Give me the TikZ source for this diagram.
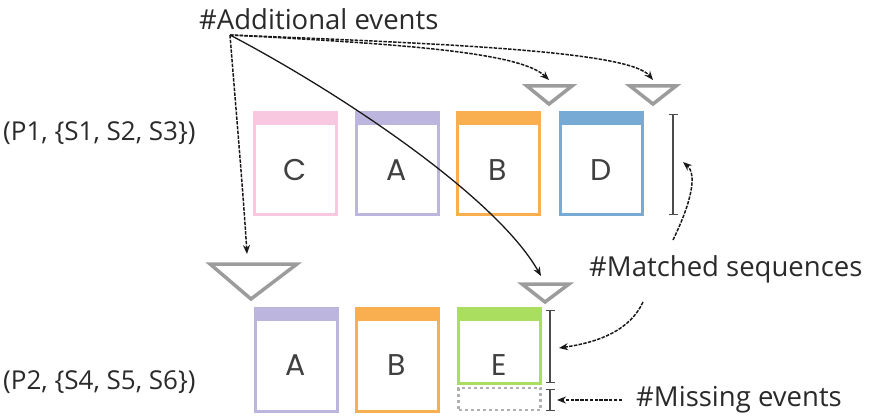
\documentclass[tikz,border=0pt]{standalone}
\usepackage{fontspec}
\setmainfont{Open Sans}
\newfontfamily\boxfont{Poppins}
\usetikzlibrary{arrows.meta}

\definecolor{evpink}{HTML}{F8C8E0}
\definecolor{evlilac}{HTML}{BCB6DE}
\definecolor{evorange}{HTML}{F9AF50}
\definecolor{evblue}{HTML}{78AAD6}
\definecolor{evgreen}{HTML}{A9DE5F}
\definecolor{markgray}{HTML}{9C9C9C}
\definecolor{inkgray}{HTML}{2A2A2A}

\tikzset{
  evbox/.style={draw=#1, line width=3pt, minimum width=82pt, minimum height=101pt,
    inner sep=0pt, font=\boxfont\fontsize{30}{32}\selectfont, text=black!75,
    text depth=0pt, text height=34pt,
    path picture={\fill[#1] (path picture bounding box.north west)
      rectangle ([yshift=-12pt]path picture bounding box.north east);}},
  gapbox/.style={draw=markgray!80, line width=2.2pt, dash pattern=on 3pt off 3pt,
    minimum width=82pt, minimum height=22pt, inner sep=0pt},
  addmark/.style={draw=markgray, line width=3.5pt, line join=miter},
  caption/.style={font=\fontsize{27.5}{32}\selectfont, text=inkgray, inner sep=0pt},
  tag/.style={font=\fontsize{26}{30}\selectfont, text=inkgray, inner sep=0pt},
  span/.style={draw=black!70, line width=1.4pt, {Bar[width=9pt]}-{Bar[width=9pt]}},
  pointer/.style={draw=black!90, line width=1.5pt, dash pattern=on 3.5pt off 1.3pt,
    -{Stealth[length=9pt,width=7pt]}},
  pointersolid/.style={draw=black!90, line width=1.3pt,
    -{Stealth[length=9pt,width=7pt]}},
}

\begin{document}
\begin{tikzpicture}[x=1pt,y=-1pt]
\useasboundingbox (0,0) rectangle (870,417);

% pattern labels
\node[tag, anchor=west] (p1) at (3,133) {(P1, \{S1, S2, S3\})};
\node[tag, anchor=west] (p2) at (3,382) {(P2, \{S4, S5, S6\})};

% first pattern: C A B D
\node[evbox=evpink]   (c1) at (295,163.5) {C};
\node[evbox=evlilac]  (a1) at (397,163.5) {A};
\node[evbox=evorange] (b1) at (498,163.5) {B};
\node[evbox=evblue]   (d1) at (601,163.5) {D};

% second pattern: A B E
\node[evbox=evlilac, minimum height=103pt, text height=31pt]   (a2) at (296,360) {A};
\node[evbox=evorange, minimum height=103pt, text height=31pt]  (b2) at (397,360) {B};
\node[evbox=evgreen, minimum height=75pt, text height=59pt]    (e2) at (499.5,346) {E};
\node[gapbox, anchor=north] (g2) at ([yshift=-2pt]e2.south) {};

% markers for additional events
\coordinate (t1) at (549,80);
\coordinate (t2) at (653,80);
\coordinate (t3) at (247,254);
\coordinate (t4) at (541,276);
\draw[addmark] (527,86) -- (572,86) -- (549,104) -- cycle;
\draw[addmark] (630,86) -- (676,86) -- (653,104) -- cycle;
\draw[addmark] (210,264) -- (297,264) -- (251,299) -- cycle;
\draw[addmark] (522,284) -- (569,284) -- (545,302) -- cycle;

% extents of the matched sequences and of the missing events
\coordinate (s1a) at (673,114);
\coordinate (s1b) at (673,215);
\coordinate (s2a) at (550,310);
\coordinate (s2b) at (550,383);
\coordinate (s3a) at (550,389);
\coordinate (s3b) at (550,411);
\draw[span] (s1a) -- (s1b);
\draw[span] (s2a) -- (s2b);
\draw[span] (s3a) -- (s3b);

% captions
\node[caption, anchor=west] (add) at (199,19) {\#Additional events};
\node[caption, anchor=west] (mat) at (589,269) {\#Matched sequences};
\node[caption, anchor=west] (mis) at (636,400) {\#Missing events};

\coordinate (src) at (230,35);
\draw[pointer] (src) .. controls (400,44) and (520,52) .. (t1);
\draw[pointer] (src) .. controls (460,44) and (630,52) .. (t2);
\draw[pointer] (src) .. controls (236,110) and (243,190) .. (t3);
\draw[pointersolid] (src) .. controls (335,90) and (495,195) .. (t4);

\coordinate (m1) at (673,240);
\coordinate (m2) at (643,302);
\coordinate (m3) at (622,400);
\draw[pointer] (m1) .. controls (690,205) and (698,175) .. (683,162);
\draw[pointer] (m2) .. controls (630,330) and (600,342) .. (559,348);
\draw[pointer] (m3) -- (557,400);
\end{tikzpicture}
\end{document}
